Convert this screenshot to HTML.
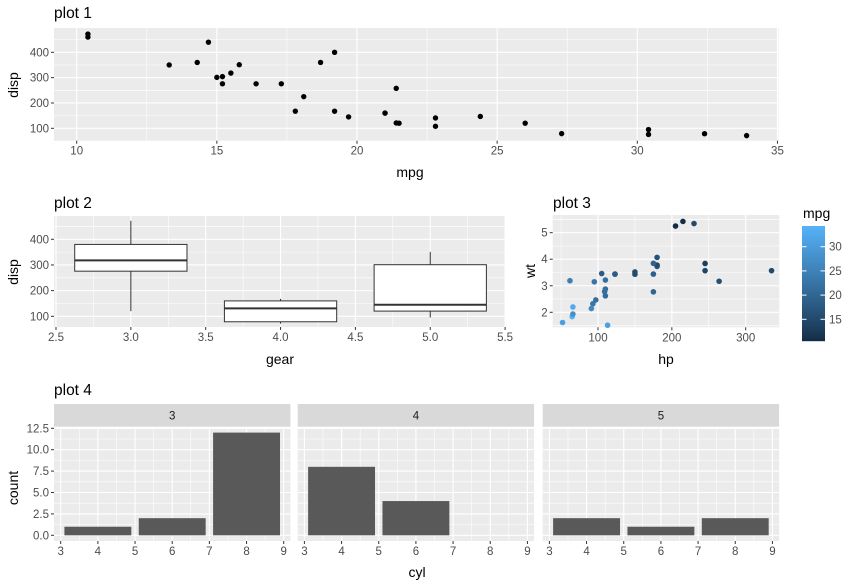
<!DOCTYPE html>
<html><head><meta charset="utf-8">
<style>
html,body{margin:0;padding:0;background:#fff;}
svg{display:block;font-family:"Liberation Sans",Arial,sans-serif;}
.tk{font-size:11.5px;fill:#4D4D4D;}
.at{font-size:14px;fill:#000;}
.tt{font-size:15.5px;fill:#000;}
</style></head>
<body>
<svg id="s" width="857" height="583" viewBox="0 0 857 583" xmlns="http://www.w3.org/2000/svg">
<rect width="857" height="583" fill="#fff"/>
<g id="g"></g>
<text class="tt" x="54" y="18">plot 1</text>
<text class="at" x="410" y="177" text-anchor="middle">mpg</text>
<text class="at" transform="translate(18,85) rotate(-90)" text-anchor="middle">disp</text>
<text class="tt" x="54" y="208">plot 2</text>
<text class="at" x="280" y="364" text-anchor="middle">gear</text>
<text class="at" transform="translate(18,272) rotate(-90)" text-anchor="middle">disp</text>
<text class="tt" x="553" y="208">plot 3</text>
<text class="at" x="666" y="364" text-anchor="middle">hp</text>
<text class="at" transform="translate(535,271) rotate(-90)" text-anchor="middle">wt</text>
<text class="at" x="803" y="218">mpg</text>
<text class="tt" x="54" y="395">plot 4</text>
<text class="at" x="417" y="577" text-anchor="middle">cyl</text>
<text class="at" transform="translate(18,488) rotate(-90)" text-anchor="middle">count</text>
</svg>
<script>
var NS="http://www.w3.org/2000/svg",G=document.getElementById('g');
function el(t,a,txt){var e=document.createElementNS(NS,t);for(var k in a)e.setAttribute(k,a[k]);if(txt!==undefined)e.textContent=txt;G.appendChild(e);return e;}
function panel(L,T,R,B,xf,yf,xmaj,xmin,ymaj,ymin,xlab,ylab,xl,yl){
 el('rect',{x:L,y:T,width:R-L,height:B-T,fill:'#EBEBEB'});
 xmin.forEach(function(v){var x=xf(v);if(x>L&&x<R)el('line',{x1:x,x2:x,y1:T,y2:B,stroke:'#fff','stroke-width':0.55});});
 ymin.forEach(function(v){var y=yf(v);if(y>T&&y<B)el('line',{x1:L,x2:R,y1:y,y2:y,stroke:'#fff','stroke-width':0.55});});
 xmaj.forEach(function(v,i){var x=xf(v);el('line',{x1:x,x2:x,y1:T,y2:B,stroke:'#fff','stroke-width':1.1});
  if(xl){el('line',{x1:x,x2:x,y1:B,y2:B+3,stroke:'#333','stroke-width':1});el('text',{'class':'tk',x:x,y:B+14,'text-anchor':'middle'},xlab[i]);}});
 ymaj.forEach(function(v,i){var y=yf(v);el('line',{x1:L,x2:R,y1:y,y2:y,stroke:'#fff','stroke-width':1.1});
  if(yl){el('line',{x1:L-3,x2:L,y1:y,y2:y,stroke:'#333','stroke-width':1});el('text',{'class':'tk',x:L-5,y:y+4,'text-anchor':'end'},ylab[i]);}});
}
var D=[[21,160,110,2.62,4],[21,160,110,2.875,4],[22.8,108,93,2.32,4],[21.4,258,110,3.215,3],[18.7,360,175,3.44,3],[18.1,225,105,3.46,3],[14.3,360,245,3.57,3],[24.4,146.7,62,3.19,4],[22.8,140.8,95,3.15,4],[19.2,167.6,123,3.44,4],[17.8,167.6,123,3.44,4],[16.4,275.8,180,4.07,3],[17.3,275.8,180,3.73,3],[15.2,275.8,180,3.78,3],[10.4,472,205,5.25,3],[10.4,460,215,5.424,3],[14.7,440,230,5.345,3],[32.4,78.7,66,2.2,4],[30.4,75.7,52,1.615,4],[33.9,71.1,65,1.835,4],[21.5,120.1,97,2.465,3],[15.5,318,150,3.52,3],[15.2,304,150,3.435,3],[13.3,350,245,3.84,3],[19.2,400,175,3.845,3],[27.3,79,66,1.935,4],[26,120.3,91,2.14,5],[30.4,95.1,113,1.513,5],[15.8,351,264,3.17,5],[19.7,145,175,2.77,5],[15,301,335,3.57,5],[21.4,121,109,2.78,4]];
var x1=function(v){return 76.7+(v-10)*28.03},y1=function(v){return 128.3-(v-100)*0.2533};
panel(54,28,778.5,140.7,x1,y1,[10,15,20,25,30,35],[12.5,17.5,22.5,27.5,32.5],[100,200,300,400],[50,150,250,350,450],['10','15','20','25','30','35'],['100','200','300','400'],1,1);
D.forEach(function(d){el('circle',{cx:x1(d[0]),cy:y1(d[1]),r:2.7,fill:'#000'});});
var x2=function(v){return 56+(v-2.5)*149.7},y2=function(v){return 316.3-(v-100)*0.2567};
panel(54,216,505.5,327,x2,y2,[2.5,3,3.5,4,4.5,5,5.5],[2.75,3.25,3.75,4.25,4.75,5.25],[100,200,300,400],[150,250,350,450],['2.5','3.0','3.5','4.0','4.5','5.0','5.5'],['100','200','300','400'],1,1);
[[3,120.1,275.8,318,380,472],[4,71.1,78.7,130.9,160,168],[5,95.1,120.3,145,301,351]].forEach(function(b){
 var c=x2(b[0]),l=x2(b[0]-0.375),r=x2(b[0]+0.375);
 el('line',{x1:c,x2:c,y1:y2(b[1]),y2:y2(b[2]),stroke:'#333','stroke-width':1});
 el('line',{x1:c,x2:c,y1:y2(b[4]),y2:y2(b[5]),stroke:'#333','stroke-width':1});
 el('rect',{x:l,y:y2(b[4]),width:r-l,height:y2(b[2])-y2(b[4]),fill:'#fff',stroke:'#333','stroke-width':1});
 el('line',{x1:l,x2:r,y1:y2(b[3]),y2:y2(b[3]),stroke:'#333','stroke-width':2});
});
var x3=function(v){return 598+(v-100)*0.7385},y3=function(v){return 232.7-(v-5)*26.53};
panel(552.7,215,779.3,327.3,x3,y3,[100,200,300],[50,150,250,350],[2,3,4,5],[1.5,2.5,3.5,4.5,5.5],['100','200','300'],['2','3','4','5'],1,1);
var c0=[19,43,67],c1=[86,177,247];
function col(m){var t=(m-10.4)/(33.9-10.4);t=Math.pow(t,0.9);return 'rgb('+c0.map(function(a,i){return Math.round(a+(c1[i]-a)*t)}).join(',')+')';}
D.forEach(function(d){el('circle',{cx:x3(d[2]),cy:y3(d[3]),r:2.8,fill:col(d[0])});});
for(var i=0;i<115;i++){var m=33.9-(i/115)*(33.9-10.4);el('rect',{x:802,y:226+i,width:23,height:1.2,fill:col(m)});}
[15,20,25,30].forEach(function(m){var y=319.3-(m-15)*4.84;
 el('line',{x1:802,x2:806.5,y1:y,y2:y,stroke:'#fff','stroke-width':1});el('line',{x1:820.5,x2:825,y1:y,y2:y,stroke:'#fff','stroke-width':1});
 el('text',{'class':'tk',x:829,y:y+4},String(m));});
var fl=[54,297.7,542.7],fw=236.4,counts={3:[1,2,12],4:[8,4,0],5:[2,1,2]},gs=[3,4,5];
fl.forEach(function(L,k){
 var xf=function(v){return L+6.7+(v-3)*37.17},yf=function(v){return 535.3-v*8.56};
 el('rect',{x:L,y:404,width:fw,height:22.7,fill:'#D9D9D9'});
 el('text',{x:L+fw/2,y:419.5,'text-anchor':'middle','font-size':'11.5px',fill:'#1A1A1A'},String(gs[k]));
 panel(L,428,L+fw,541,xf,yf,[3,4,5,6,7,8,9],[3.5,4.5,5.5,6.5,7.5,8.5],[0,2.5,5,7.5,10,12.5],[1.25,3.75,6.25,8.75,11.25],['3','4','5','6','7','8','9'],['0.0','2.5','5.0','7.5','10.0','12.5'],1,k==0);
 counts[gs[k]].forEach(function(c,j){if(!c)return;var cx=4+2*j;el('rect',{x:xf(cx-0.9),y:yf(c),width:xf(cx+0.9)-xf(cx-0.9),height:yf(0)-yf(c),fill:'#595959'});});
});
</script>
</body></html>
